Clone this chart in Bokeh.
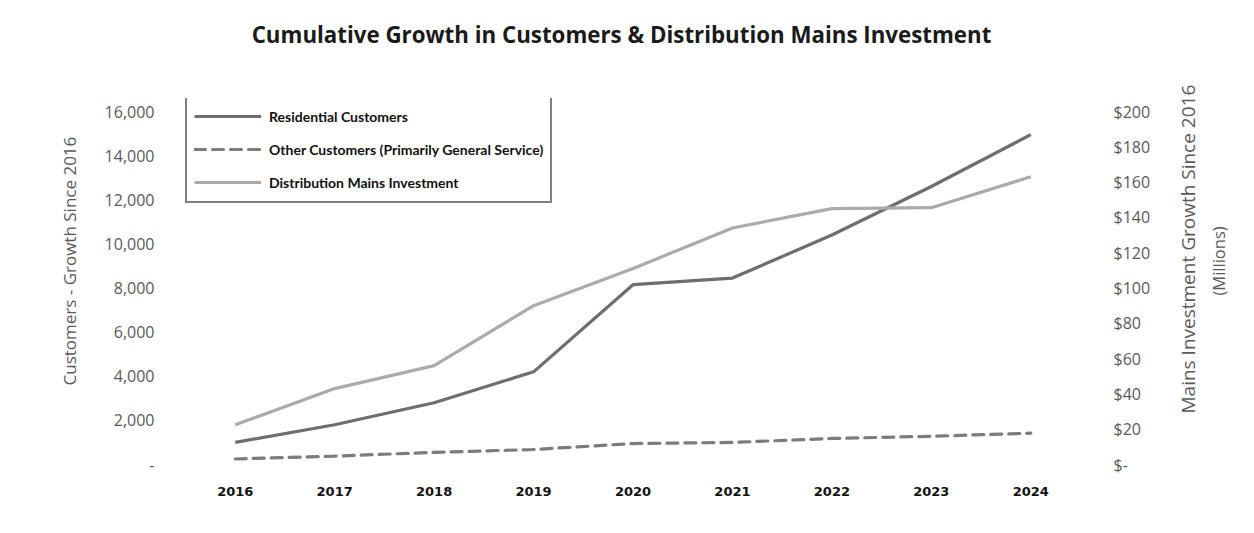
import math
from bokeh.plotting import figure
from bokeh.layouts import row, column
from bokeh.models import (FactorRange, Range1d, LinearAxis, FixedTicker, CustomJSTickFormatter,
                          Legend, LegendItem, Label, Title)
from bokeh.embed import file_html
from bokeh.resources import INLINE

years = ["2016", "2017", "2018", "2019", "2020", "2021", "2022", "2023", "2024"]
residential = [1000, 1800, 2800, 4200, 8150, 8450, 10400, 12600, 14950]
other = [250, 380, 550, 680, 950, 1000, 1180, 1280, 1420]
mains = [22.5, 43, 56, 90, 111, 134, 145, 145.5, 163]

left_ticks = [0, 2000, 4000, 6000, 8000, 10000, 12000, 14000, 16000]
right_ticks = [0, 20, 40, 60, 80, 100, 120, 140, 160, 180, 200]

title_text = "Cumulative Growth in Customers & Distribution Mains Investment"
left_label = "Customers - Growth Since 2016"
right_label_1 = "Mains Investment Growth Since 2016"
right_label_2 = "(Millions)"
legend_labels = ["Residential Customers", "Other Customers (Primarily General Service)",
                 "Distribution Mains Investment"]

W, H = 1254, 533
TH = 70                    # height of the title strip
RS = 84                    # width of the right label strip
FL, FR, FT, FB = 185, 1080, 98, 464   # frame edges in page pixels
TOP16 = 111                # page row of the 16,000 / $200 tick
extra = (TOP16 - FT) / (FB - TOP16)
MH = H - TH

GREY = "#5a5a5a"


def clean(fig):
    fig.outline_line_color = None
    fig.xgrid.grid_line_color = None
    fig.ygrid.grid_line_color = None
    fig.background_fill_color = "white"
    fig.border_fill_color = "white"


# ---------- title strip ----------
tf = figure(width=W, height=TH, x_range=Range1d(0, 1), y_range=Range1d(0, 1),
            output_backend="svg", toolbar_location=None, min_border_left=FL,
            min_border_right=W - FR, min_border_top=0, min_border_bottom=0,
            x_axis_location=None, y_axis_location=None)
clean(tf)
tf.add_layout(Label(x=621 - FL, y=TH - 34, x_units="screen", y_units="screen", text=title_text,
                    text_align="center", text_baseline="middle", text_font="Open Sans",
                    text_font_style="bold", text_font_size="22.3px", text_color="#1a1a1a"))

# ---------- main chart ----------
p = figure(width=W - RS, height=MH, x_range=FactorRange(*years, range_padding=0),
           y_range=Range1d(0, 16000 * (1 + extra)), output_backend="svg", toolbar_location=None,
           min_border_left=FL, min_border_right=(W - RS) - FR, min_border_top=FT - TH,
           min_border_bottom=H - FB)
p.extra_y_ranges = {"mains": Range1d(0, 200 * (1 + extra))}
clean(p)

ya = p.yaxis[0]
ya.ticker = FixedTicker(ticks=left_ticks)
ya.formatter = CustomJSTickFormatter(code="return tick == 0 ? '-' : tick.toLocaleString('en-US');")
ya.axis_line_color = None
ya.major_tick_line_color = None
ya.minor_tick_line_color = None
ya.major_label_standoff = 25
ya.major_label_text_font = "Open Sans"
ya.major_label_text_font_size = "16px"
ya.major_label_text_color = GREY

p.add_layout(Title(text=left_label, align="left", offset=79, standoff=41, text_font="Open Sans",
                   text_font_size="17px", text_font_style="normal", text_color=GREY), "left")

ra = LinearAxis(y_range_name="mains", ticker=FixedTicker(ticks=right_ticks),
                formatter=CustomJSTickFormatter(code="return tick == 0 ? '$-' : '$' + tick;"))
ra.axis_line_color = None
ra.major_tick_line_color = None
ra.minor_tick_line_color = None
ra.major_label_standoff = 27
ra.major_label_text_font = "Open Sans"
ra.major_label_text_font_size = "16px"
ra.major_label_text_color = GREY
p.add_layout(ra, "right")

xa = p.xaxis[0]
xa.axis_line_color = None
xa.major_tick_line_color = None
xa.minor_tick_line_color = None
xa.major_label_standoff = 16
xa.major_label_text_font = "DejaVu Sans"
xa.major_label_text_font_style = "bold"
xa.major_label_text_font_size = "13px"
xa.major_label_text_color = "#111111"

r1 = p.line(years, residential, line_color="#6e6e6e", line_width=3.2)
r2 = p.line(years, other, line_color="#7c7c7c", line_width=3.2, line_dash="11 7", line_cap="round")
r3 = p.line(years, mains, line_color="#ababab", line_width=3.2, y_range_name="mains")

legend = Legend(items=[LegendItem(label=legend_labels[0], renderers=[r1]),
                       LegendItem(label=legend_labels[1], renderers=[r2]),
                       LegendItem(label=legend_labels[2], renderers=[r3])],
                location=(0, FB - 203), orientation="vertical",
                border_line_color="black", border_line_width=2,
                background_fill_color="white", background_fill_alpha=1,
                label_text_font="Lato", label_text_font_style="bold",
                label_text_font_size="14px", label_text_color="#111111",
                glyph_width=67, glyph_height=24, label_height=24, spacing=9,
                padding=7, margin=0, label_standoff=8)
p.add_layout(legend, "center")

# ---------- right label strip ----------
rs = figure(width=RS, height=MH, x_range=Range1d(0, 1), y_range=Range1d(0, 1),
            output_backend="svg", toolbar_location=None, min_border_left=0,
            min_border_right=0, min_border_top=FT - TH, min_border_bottom=H - FB,
            x_axis_location=None, y_axis_location=None)
clean(rs)
rs.add_layout(Title(text=right_label_2, align="left", offset=FB - 295, standoff=4,
                    text_font="Open Sans", text_font_size="16.5px", text_font_style="normal",
                    text_color=GREY), "left")
rs.add_layout(Title(text=right_label_1, align="left", offset=FB - 413, standoff=4,
                    text_font="Open Sans", text_font_size="19px", text_font_style="normal",
                    text_color=GREY), "left")

layout = column(tf, row(p, rs, spacing=0), spacing=0)
open("out.html", "w").write(file_html(layout, INLINE))
